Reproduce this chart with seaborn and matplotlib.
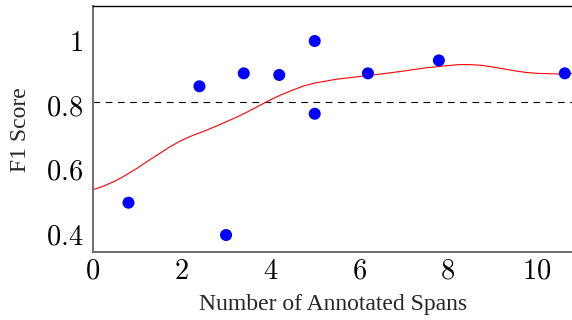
import numpy as np
import pandas as pd
import matplotlib
matplotlib.use('Agg')
import matplotlib.pyplot as plt
import seaborn as sns

# observed points
spans = [0.8, 2.4, 3.0, 3.4, 4.2, 5.0, 5.0, 6.2, 7.8, 10.64]
f1 = [0.50, 0.86, 0.40, 0.90, 0.895, 1.00, 0.775, 0.90, 0.94, 0.90]

# fitted trend (red curve)
fit_x = [0, 0.25, 0.5, 0.75, 1.0, 1.25, 1.5, 1.75, 2.0, 2.25, 2.5, 2.75, 3.0,
         3.25, 3.5, 3.75, 4.0, 4.25, 4.5, 4.75, 5.0, 5.5, 6.0, 6.5, 7.0, 7.5,
         8.0, 8.25, 8.5, 8.75, 9.0, 9.25, 9.5, 9.75, 10.0, 10.5, 10.9]
fit_y = [0.54, 0.552, 0.567, 0.586, 0.607, 0.630, 0.652, 0.674, 0.693, 0.708,
         0.721, 0.735, 0.75, 0.765, 0.782, 0.80, 0.818, 0.834, 0.848, 0.861,
         0.87, 0.882, 0.89, 0.898, 0.907, 0.917, 0.924, 0.927, 0.927, 0.925,
         0.92, 0.914, 0.908, 0.903, 0.90, 0.898, 0.90]

baseline = 0.81
xticks = [0, 2, 4, 6, 8, 10]
yticks = [0.4, 0.6, 0.8, 1.0]
ytick_labels = ['0.4', '0.6', '0.8', '1']

pts = pd.DataFrame({'spans': spans, 'f1': f1})
fit = pd.DataFrame({'x': fit_x, 'y': fit_y})

sns.set_style('white')
plt.rcParams['font.family'] = ['Liberation Serif', 'DejaVu Serif']
plt.rcParams['mathtext.fontset'] = 'cm'

fig = plt.figure(figsize=(5.72, 3.2), dpi=100)
ax = fig.add_axes([0.1626, 0.214, 0.845, 0.767])

ax.axhline(baseline, color='black', lw=0.8, ls=(0, (6, 5)), zorder=1)
sns.lineplot(data=fit, x='x', y='y', color='red', lw=0.8, ax=ax, zorder=2)
sns.scatterplot(data=pts, x='spans', y='f1', color='blue', s=75,
                edgecolor='none', ax=ax, zorder=3)

ax.set_xlim(0, 10.9)
ax.set_ylim(0.349, 1.108)
ax.set_xticks(xticks)
ax.set_xticklabels(['$%d$' % t for t in xticks])
ax.set_yticks(yticks)
ax.set_yticklabels(['$%s$' % t for t in ytick_labels])

ax.tick_params(direction='in', length=3, width=0.6, colors='#777777',
               labelcolor='black', labelsize=20.5)
ax.tick_params(axis='x', pad=6)
ax.tick_params(axis='y', pad=7)

for side in ['left', 'bottom']:
    ax.spines[side].set_color('#6e6e6e')
    ax.spines[side].set_linewidth(1.4)
ax.spines['top'].set_color('black')
ax.spines['top'].set_linewidth(1.0)
ax.spines['right'].set_visible(False)

ax.set_xlabel('Number of Annotated Spans', fontsize=17)
ax.set_ylabel('F1 Score', fontsize=17)
ax.xaxis.set_label_coords(0.497, -0.172)
ax.yaxis.set_label_coords(-0.128, 0.495)

fig.savefig('out.png', dpi=100)
